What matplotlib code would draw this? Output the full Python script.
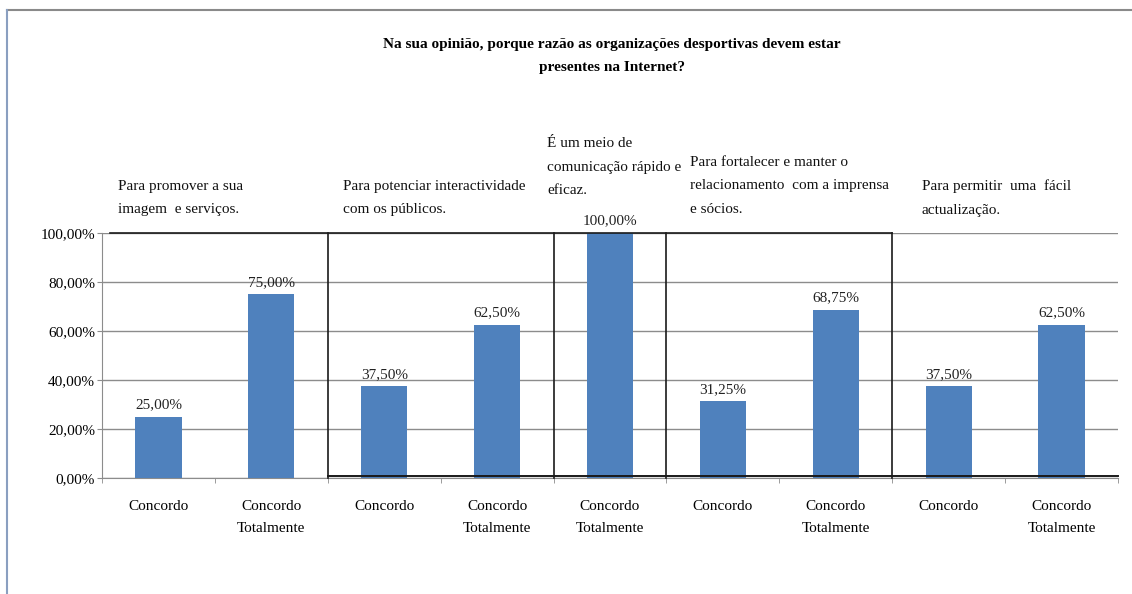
import matplotlib.pyplot as plt
from matplotlib.lines import Line2D
import numpy as np

plt.rcParams['font.family'] = ['Liberation Serif', 'DejaVu Serif']

# respostas por categoria (percentagem)
categorias = ['Concordo', 'Concordo\nTotalmente',
              'Concordo', 'Concordo\nTotalmente',
              'Concordo\nTotalmente',
              'Concordo', 'Concordo\nTotalmente',
              'Concordo', 'Concordo\nTotalmente']
valores = [25.00, 75.00, 37.50, 62.50, 100.00, 31.25, 68.75, 37.50, 62.50]
rotulos = ['25,00%', '75,00%', '37,50%', '62,50%', '100,00%',
           '31,25%', '68,75%', '37,50%', '62,50%']

razoes = ['Para promover a sua\nimagem  e serviços.',
          'Para potenciar interactividade\ncom os públicos.',
          'É um meio de\ncomunicação rápido e\neficaz.',
          'Para fortalecer e manter o\nrelacionamento  com a imprensa\ne sócios.',
          'Para permitir  uma  fácil\nactualização.']
# limites dos grupos (em categorias)
limites = [2, 4, 5, 7]

titulo = ('Na sua opinião, porque razão as organizações desportivas devem estar\n'
          'presentes na Internet?')

W, H = 1132, 594
fig = plt.figure(figsize=(W / 100, H / 100), dpi=100)

def fx(px):
    return px / W

def fy(py):
    return 1 - py / H

ax = fig.add_axes([fx(102), fy(478), fx(1118 - 102), (478 - 233) / H])

x = np.arange(len(valores)) + 0.5
bars = ax.bar(x, valores, width=0.41, color='#4F81BD', zorder=3)
for b, v, r in zip(bars, valores, rotulos):
    ax.text(b.get_x() + b.get_width() / 2, v + 2.2, r, ha='center', va='bottom',
            fontsize=11, color='#222222', zorder=5)

ax.set_xlim(0, 9)
ax.set_ylim(0, 100)
ax.set_yticks(np.arange(0, 101, 20))
ax.set_yticklabels(['%d,00%%' % t for t in range(0, 101, 20)], fontsize=11)
ax.yaxis.grid(True, color='#8c8c8c', linewidth=1.0, zorder=0)

ax.set_xticks(x)
ax.set_xticklabels(categorias, fontsize=11, linespacing=1.9)
ax.set_xticks(np.arange(0, 10), minor=True)
ax.tick_params(axis='x', which='major', length=0, pad=16)
ax.tick_params(axis='x', which='minor', length=3.5, color='#8c8c8c')
ax.tick_params(axis='y', length=3.5, color='#8c8c8c', pad=1.5)

for s in ['top', 'right']:
    ax.spines[s].set_visible(False)
for s in ['left', 'bottom']:
    ax.spines[s].set_color('#8c8c8c')

# caixas a separar os grupos
kw = dict(color='#1a1a1a', linewidth=1.2, zorder=4, clip_on=False)
ax.plot([0.07, 7], [100, 100], **kw)
for lim in limites:
    ax.plot([lim, lim], [0, 100], **kw)
ax.plot([2, 9], [0.7, 0.7], color='#1a1a1a', linewidth=1.4, zorder=4, clip_on=False)

# textos das razões
pos = [(118, 198), (343, 198), (547, 167), (690, 186), (922, 198)]
for t, (px, py) in zip(razoes, pos):
    fig.text(fx(px), fy(py), t, ha='left', va='center', fontsize=11,
             linespacing=2.05, color='#111111')

fig.text(fx(612), fy(56), titulo, ha='center', va='center', fontsize=11,
         fontweight='bold', linespacing=2.05)

# moldura do gráfico
fig.add_artist(Line2D([fx(7), 1], [fy(10), fy(10)], color='#8a8a8a', linewidth=1.5))
fig.add_artist(Line2D([fx(7), fx(7)], [fy(10), 0], color='#8a9fc0', linewidth=1.5))

fig.savefig('out.png', dpi=100)
